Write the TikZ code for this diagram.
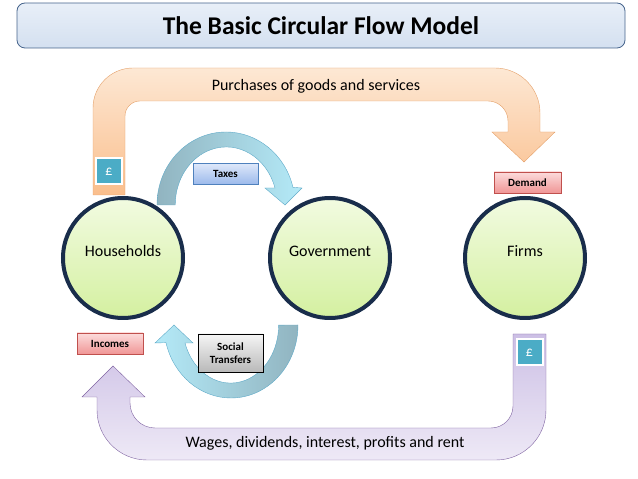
\documentclass[tikz,border=0pt]{standalone}
\usepackage{fontspec}
\setmainfont{Carlito}
\usetikzlibrary{positioning}
\definecolor{navy}{RGB}{25,45,75}
\definecolor{leafTop}{RGB}{242,251,225}
\definecolor{leafBot}{RGB}{212,240,160}
\definecolor{peachTop}{RGB}{253,232,212}
\definecolor{peachBot}{RGB}{250,190,140}
\definecolor{peachLine}{RGB}{228,160,105}
\definecolor{lilacTop}{RGB}{204,191,229}
\definecolor{lilacBot}{RGB}{238,233,246}
\definecolor{lilacLine}{RGB}{128,100,162}
\definecolor{skyLight}{RGB}{180,234,248}
\definecolor{skyDark}{RGB}{145,180,192}
\definecolor{skyLine}{RGB}{95,170,200}
\definecolor{teal}{RGB}{75,172,198}
\tikzset{
    %Define style for the sectors
    sector/.style={
           circle,
           draw=navy, line width=4pt,
           minimum size=120pt,
           inner sep=0pt, outer sep=0pt,
           text height=11.5pt, text depth=15pt,
           top color=leafTop, bottom color=leafBot,
           font=\fontsize{16}{18}\selectfont},
    %Define style for small tags
    tag/.style={
           rectangle,
           draw, thin,
           minimum height=21pt,
           inner sep=2pt,
           font=\bfseries\fontsize{11}{12}\selectfont,
           text centered},
    bluetag/.style={tag, draw={rgb,255:red,79;green,129;blue,189},
           top color={rgb,255:red,222;green,232;blue,250},
           bottom color={rgb,255:red,155;green,185;blue,235}},
    redtag/.style={tag, draw={rgb,255:red,192;green,80;blue,77},
           top color={rgb,255:red,252;green,220;blue,220},
           bottom color={rgb,255:red,240;green,150;blue,150}},
    greytag/.style={tag, draw=black,
           top color={rgb,255:red,245;green,245;blue,245},
           bottom color={rgb,255:red,185;green,185;blue,185}},
    pound/.style={
           rectangle,
           draw=white, line width=2pt,
           fill=teal,
           minimum size=26pt,
           text=white,
           font=\fontsize{14}{16}\selectfont},
    annote/.style={
          font=\fontsize{16}{18}\selectfont
    },
    % Define styles for the flows
    spendflow/.style={
           draw=peachLine, thin,
           top color=peachTop, bottom color=peachBot},
    incomeflow/.style={
           draw=lilacLine, thin,
           top color=lilacTop, bottom color=lilacBot},
    govflow/.style={
           draw=skyLine, thin},
}
\begin{document}
\begin{tikzpicture}[x=1pt,y=1pt]
\useasboundingbox (0,0) rectangle (638,479);
\node[rounded corners=8pt, draw={rgb,255:red,70;green,100;blue,140}, thick,
      top color={rgb,255:red,232;green,239;blue,248},
      bottom color={rgb,255:red,212;green,224;blue,240},
      minimum width=608pt, minimum height=45pt,
      font=\bfseries\fontsize{25.5}{28}\selectfont] (title) at (321,453.5) {The Basic Circular Flow Model};
% spending flow, households to firms
\draw[spendflow] (93,284) -- (93,371) arc[start angle=180,end angle=90,radius=40]
      -- (495,411) arc[start angle=90,end angle=0,radius=45]
      -- (540,347) -- (555,347) -- (524,317) -- (492,347) -- (508,347)
      -- (508,358) arc[start angle=0,end angle=90,radius=20]
      -- (140,378) arc[start angle=90,end angle=180,radius=15] -- (125,284) -- cycle;
% income flow, firms to households
\draw[incomeflow] (546,145) -- (546,69) arc[start angle=0,end angle=-90,radius=50]
      -- (147,19) arc[start angle=270,end angle=180,radius=50]
      -- (97,82) -- (82,82) -- (113,113) -- (145,82) -- (130,82)
      -- (130,76) arc[start angle=180,end angle=270,radius=25]
      -- (491,51) arc[start angle=270,end angle=360,radius=22] -- (513,145) -- cycle;
% taxes and transfers
\draw[govflow, left color=skyDark, middle color=skyDark!40!skyLight, right color=skyLight]
      (157,274) arc[start angle=180,end angle=14,x radius=69,y radius=73]
      -- (302,291) -- (285,274) -- (265,291) -- (275,291)
      arc[start angle=17,end angle=180,x radius=51,y radius=58] -- cycle;
\draw[govflow, left color=skyLight, middle color=skyLight, right color=skyDark]
      (298,154) arc[start angle=0,end angle=-166,x radius=67,y radius=73]
      -- (155,136) -- (174,154) -- (193,136) -- (185,136)
      arc[start angle=-162,end angle=0,x radius=48,y radius=58] -- cycle;
\node[sector] (households) at (123,221) {Households};
\node[sector, right=87pt of households] (government) {Government};
\node[sector, right=75pt of government] (firms) {Firms};
\node[annote] (purchases) at (316,393) {Purchases of goods and services};
\node[annote] (wages) at (325,36) {Wages, dividends, interest, profits and rent};
\node[bluetag, minimum width=65pt] (taxes) at (225.5,305) {Taxes};
\node[redtag, minimum width=67pt, above=5pt of firms, xshift=2.5pt] (demand) {Demand};
\node[redtag, minimum width=66pt] (incomes) at (110,135.5) {Incomes};
\node[greytag, minimum width=65pt, minimum height=38pt, align=center,
      font=\bfseries\fontsize{11}{13}\selectfont] (transfers) at (230.5,126) {Social\\Transfers};
\node[pound] (poundhh) at (109,307.5) {£};
\node[pound] (poundfirms) at (529.5,126.5) {£};
\end{tikzpicture}
\end{document}
